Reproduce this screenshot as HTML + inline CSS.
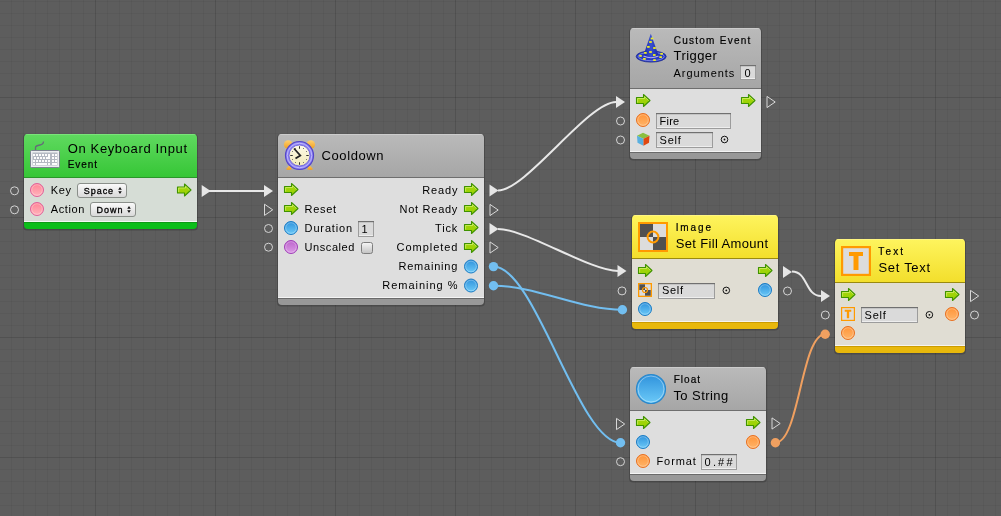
<!DOCTYPE html><html><head><meta charset="utf-8"><style>html,body{margin:0;padding:0;background:#5d5d5d;overflow:hidden;width:1001px;height:516px}svg{display:block;will-change:transform}text{font-family:"Liberation Sans",sans-serif}</style></head><body><svg width="1001" height="516" viewBox="0 0 1001 516" font-family="Liberation Sans, sans-serif"><defs><linearGradient id="hg_green" x1="0" y1="0" x2="0" y2="1"><stop offset="0" stop-color="#60da60"/><stop offset="1" stop-color="#36c636"/></linearGradient><linearGradient id="hg_gray" x1="0" y1="0" x2="0" y2="1"><stop offset="0" stop-color="#bababa"/><stop offset="1" stop-color="#a6a6a6"/></linearGradient><linearGradient id="hg_yellow" x1="0" y1="0" x2="0" y2="1"><stop offset="0" stop-color="#fef45e"/><stop offset="1" stop-color="#f3df2c"/></linearGradient><linearGradient id="pg_blue" x1="0" y1="0" x2="0" y2="1"><stop offset="0" stop-color="#2f92dc"/><stop offset="1" stop-color="#6ccaf8"/></linearGradient><linearGradient id="pg_orange" x1="0" y1="0" x2="0" y2="1"><stop offset="0" stop-color="#ff9438"/><stop offset="1" stop-color="#ffb56a"/></linearGradient><linearGradient id="pg_pink" x1="0" y1="0" x2="0" y2="1"><stop offset="0" stop-color="#ff8496"/><stop offset="1" stop-color="#ffb4bc"/></linearGradient><linearGradient id="pg_purple" x1="0" y1="0" x2="0" y2="1"><stop offset="0" stop-color="#bc64cc"/><stop offset="1" stop-color="#dc9ce6"/></linearGradient><linearGradient id="ag" x1="0" y1="0" x2="0" y2="1"><stop offset="0" stop-color="#a6d810"/><stop offset="1" stop-color="#98d000"/></linearGradient><linearGradient id="ddg" x1="0" y1="0" x2="0" y2="1"><stop offset="0" stop-color="#fbfbfb"/><stop offset="1" stop-color="#d8d8d8"/></linearGradient></defs><rect width="1001" height="516" fill="#5d5d5d"/><rect x="11" y="0" width="1" height="516" fill="#000" fill-opacity="0.045"/><rect x="23" y="0" width="1" height="516" fill="#000" fill-opacity="0.045"/><rect x="35" y="0" width="1" height="516" fill="#000" fill-opacity="0.045"/><rect x="47" y="0" width="1" height="516" fill="#000" fill-opacity="0.045"/><rect x="59" y="0" width="1" height="516" fill="#000" fill-opacity="0.045"/><rect x="71" y="0" width="1" height="516" fill="#000" fill-opacity="0.045"/><rect x="83" y="0" width="1" height="516" fill="#000" fill-opacity="0.045"/><rect x="95" y="0" width="1" height="516" fill="#000" fill-opacity="0.12"/><rect x="107" y="0" width="1" height="516" fill="#000" fill-opacity="0.045"/><rect x="119" y="0" width="1" height="516" fill="#000" fill-opacity="0.045"/><rect x="131" y="0" width="1" height="516" fill="#000" fill-opacity="0.045"/><rect x="143" y="0" width="1" height="516" fill="#000" fill-opacity="0.045"/><rect x="155" y="0" width="1" height="516" fill="#000" fill-opacity="0.045"/><rect x="167" y="0" width="1" height="516" fill="#000" fill-opacity="0.045"/><rect x="179" y="0" width="1" height="516" fill="#000" fill-opacity="0.045"/><rect x="191" y="0" width="1" height="516" fill="#000" fill-opacity="0.045"/><rect x="203" y="0" width="1" height="516" fill="#000" fill-opacity="0.045"/><rect x="215" y="0" width="1" height="516" fill="#000" fill-opacity="0.12"/><rect x="227" y="0" width="1" height="516" fill="#000" fill-opacity="0.045"/><rect x="239" y="0" width="1" height="516" fill="#000" fill-opacity="0.045"/><rect x="251" y="0" width="1" height="516" fill="#000" fill-opacity="0.045"/><rect x="263" y="0" width="1" height="516" fill="#000" fill-opacity="0.045"/><rect x="275" y="0" width="1" height="516" fill="#000" fill-opacity="0.045"/><rect x="287" y="0" width="1" height="516" fill="#000" fill-opacity="0.045"/><rect x="299" y="0" width="1" height="516" fill="#000" fill-opacity="0.045"/><rect x="311" y="0" width="1" height="516" fill="#000" fill-opacity="0.045"/><rect x="323" y="0" width="1" height="516" fill="#000" fill-opacity="0.045"/><rect x="335" y="0" width="1" height="516" fill="#000" fill-opacity="0.12"/><rect x="347" y="0" width="1" height="516" fill="#000" fill-opacity="0.045"/><rect x="359" y="0" width="1" height="516" fill="#000" fill-opacity="0.045"/><rect x="371" y="0" width="1" height="516" fill="#000" fill-opacity="0.045"/><rect x="383" y="0" width="1" height="516" fill="#000" fill-opacity="0.045"/><rect x="395" y="0" width="1" height="516" fill="#000" fill-opacity="0.045"/><rect x="407" y="0" width="1" height="516" fill="#000" fill-opacity="0.045"/><rect x="419" y="0" width="1" height="516" fill="#000" fill-opacity="0.045"/><rect x="431" y="0" width="1" height="516" fill="#000" fill-opacity="0.045"/><rect x="443" y="0" width="1" height="516" fill="#000" fill-opacity="0.045"/><rect x="455" y="0" width="1" height="516" fill="#000" fill-opacity="0.12"/><rect x="467" y="0" width="1" height="516" fill="#000" fill-opacity="0.045"/><rect x="479" y="0" width="1" height="516" fill="#000" fill-opacity="0.045"/><rect x="491" y="0" width="1" height="516" fill="#000" fill-opacity="0.045"/><rect x="503" y="0" width="1" height="516" fill="#000" fill-opacity="0.045"/><rect x="515" y="0" width="1" height="516" fill="#000" fill-opacity="0.045"/><rect x="527" y="0" width="1" height="516" fill="#000" fill-opacity="0.045"/><rect x="539" y="0" width="1" height="516" fill="#000" fill-opacity="0.045"/><rect x="551" y="0" width="1" height="516" fill="#000" fill-opacity="0.045"/><rect x="563" y="0" width="1" height="516" fill="#000" fill-opacity="0.045"/><rect x="575" y="0" width="1" height="516" fill="#000" fill-opacity="0.12"/><rect x="587" y="0" width="1" height="516" fill="#000" fill-opacity="0.045"/><rect x="599" y="0" width="1" height="516" fill="#000" fill-opacity="0.045"/><rect x="611" y="0" width="1" height="516" fill="#000" fill-opacity="0.045"/><rect x="623" y="0" width="1" height="516" fill="#000" fill-opacity="0.045"/><rect x="635" y="0" width="1" height="516" fill="#000" fill-opacity="0.045"/><rect x="647" y="0" width="1" height="516" fill="#000" fill-opacity="0.045"/><rect x="659" y="0" width="1" height="516" fill="#000" fill-opacity="0.045"/><rect x="671" y="0" width="1" height="516" fill="#000" fill-opacity="0.045"/><rect x="683" y="0" width="1" height="516" fill="#000" fill-opacity="0.045"/><rect x="695" y="0" width="1" height="516" fill="#000" fill-opacity="0.12"/><rect x="707" y="0" width="1" height="516" fill="#000" fill-opacity="0.045"/><rect x="719" y="0" width="1" height="516" fill="#000" fill-opacity="0.045"/><rect x="731" y="0" width="1" height="516" fill="#000" fill-opacity="0.045"/><rect x="743" y="0" width="1" height="516" fill="#000" fill-opacity="0.045"/><rect x="755" y="0" width="1" height="516" fill="#000" fill-opacity="0.045"/><rect x="767" y="0" width="1" height="516" fill="#000" fill-opacity="0.045"/><rect x="779" y="0" width="1" height="516" fill="#000" fill-opacity="0.045"/><rect x="791" y="0" width="1" height="516" fill="#000" fill-opacity="0.045"/><rect x="803" y="0" width="1" height="516" fill="#000" fill-opacity="0.045"/><rect x="815" y="0" width="1" height="516" fill="#000" fill-opacity="0.12"/><rect x="827" y="0" width="1" height="516" fill="#000" fill-opacity="0.045"/><rect x="839" y="0" width="1" height="516" fill="#000" fill-opacity="0.045"/><rect x="851" y="0" width="1" height="516" fill="#000" fill-opacity="0.045"/><rect x="863" y="0" width="1" height="516" fill="#000" fill-opacity="0.045"/><rect x="875" y="0" width="1" height="516" fill="#000" fill-opacity="0.045"/><rect x="887" y="0" width="1" height="516" fill="#000" fill-opacity="0.045"/><rect x="899" y="0" width="1" height="516" fill="#000" fill-opacity="0.045"/><rect x="911" y="0" width="1" height="516" fill="#000" fill-opacity="0.045"/><rect x="923" y="0" width="1" height="516" fill="#000" fill-opacity="0.045"/><rect x="935" y="0" width="1" height="516" fill="#000" fill-opacity="0.12"/><rect x="947" y="0" width="1" height="516" fill="#000" fill-opacity="0.045"/><rect x="959" y="0" width="1" height="516" fill="#000" fill-opacity="0.045"/><rect x="971" y="0" width="1" height="516" fill="#000" fill-opacity="0.045"/><rect x="983" y="0" width="1" height="516" fill="#000" fill-opacity="0.045"/><rect x="995" y="0" width="1" height="516" fill="#000" fill-opacity="0.045"/><rect x="0" y="1" width="1001" height="1" fill="#000" fill-opacity="0.045"/><rect x="0" y="13" width="1001" height="1" fill="#000" fill-opacity="0.045"/><rect x="0" y="25" width="1001" height="1" fill="#000" fill-opacity="0.045"/><rect x="0" y="37" width="1001" height="1" fill="#000" fill-opacity="0.045"/><rect x="0" y="49" width="1001" height="1" fill="#000" fill-opacity="0.045"/><rect x="0" y="61" width="1001" height="1" fill="#000" fill-opacity="0.045"/><rect x="0" y="73" width="1001" height="1" fill="#000" fill-opacity="0.045"/><rect x="0" y="85" width="1001" height="1" fill="#000" fill-opacity="0.045"/><rect x="0" y="97" width="1001" height="1" fill="#000" fill-opacity="0.12"/><rect x="0" y="109" width="1001" height="1" fill="#000" fill-opacity="0.045"/><rect x="0" y="121" width="1001" height="1" fill="#000" fill-opacity="0.045"/><rect x="0" y="133" width="1001" height="1" fill="#000" fill-opacity="0.045"/><rect x="0" y="145" width="1001" height="1" fill="#000" fill-opacity="0.045"/><rect x="0" y="157" width="1001" height="1" fill="#000" fill-opacity="0.045"/><rect x="0" y="169" width="1001" height="1" fill="#000" fill-opacity="0.045"/><rect x="0" y="181" width="1001" height="1" fill="#000" fill-opacity="0.045"/><rect x="0" y="193" width="1001" height="1" fill="#000" fill-opacity="0.045"/><rect x="0" y="205" width="1001" height="1" fill="#000" fill-opacity="0.045"/><rect x="0" y="217" width="1001" height="1" fill="#000" fill-opacity="0.12"/><rect x="0" y="229" width="1001" height="1" fill="#000" fill-opacity="0.045"/><rect x="0" y="241" width="1001" height="1" fill="#000" fill-opacity="0.045"/><rect x="0" y="253" width="1001" height="1" fill="#000" fill-opacity="0.045"/><rect x="0" y="265" width="1001" height="1" fill="#000" fill-opacity="0.045"/><rect x="0" y="277" width="1001" height="1" fill="#000" fill-opacity="0.045"/><rect x="0" y="289" width="1001" height="1" fill="#000" fill-opacity="0.045"/><rect x="0" y="301" width="1001" height="1" fill="#000" fill-opacity="0.045"/><rect x="0" y="313" width="1001" height="1" fill="#000" fill-opacity="0.045"/><rect x="0" y="325" width="1001" height="1" fill="#000" fill-opacity="0.045"/><rect x="0" y="337" width="1001" height="1" fill="#000" fill-opacity="0.12"/><rect x="0" y="349" width="1001" height="1" fill="#000" fill-opacity="0.045"/><rect x="0" y="361" width="1001" height="1" fill="#000" fill-opacity="0.045"/><rect x="0" y="373" width="1001" height="1" fill="#000" fill-opacity="0.045"/><rect x="0" y="385" width="1001" height="1" fill="#000" fill-opacity="0.045"/><rect x="0" y="397" width="1001" height="1" fill="#000" fill-opacity="0.045"/><rect x="0" y="409" width="1001" height="1" fill="#000" fill-opacity="0.045"/><rect x="0" y="421" width="1001" height="1" fill="#000" fill-opacity="0.045"/><rect x="0" y="433" width="1001" height="1" fill="#000" fill-opacity="0.045"/><rect x="0" y="445" width="1001" height="1" fill="#000" fill-opacity="0.045"/><rect x="0" y="457" width="1001" height="1" fill="#000" fill-opacity="0.12"/><rect x="0" y="469" width="1001" height="1" fill="#000" fill-opacity="0.045"/><rect x="0" y="481" width="1001" height="1" fill="#000" fill-opacity="0.045"/><rect x="0" y="493" width="1001" height="1" fill="#000" fill-opacity="0.045"/><rect x="0" y="505" width="1001" height="1" fill="#000" fill-opacity="0.045"/><path d="M206 191C206 191 265 191 265 191" fill="none" stroke="#e8e8e8" stroke-width="2"/><path d="M498 190.5C526 190.5 588 102 616 102" fill="none" stroke="#e8e8e8" stroke-width="2"/><path d="M498 229C526 229 590 271 618 271" fill="none" stroke="#e8e8e8" stroke-width="2"/><path d="M493.5 266.6C535.5 266.6 578.5 442.8 620.5 442.8" fill="none" stroke="#72bef0" stroke-width="2"/><path d="M493.5 285.7C535.5 285.7 580.4 309.8 622.4 309.8" fill="none" stroke="#72bef0" stroke-width="2"/><path d="M792 271.5C808 271.5 805 296 821 296" fill="none" stroke="#e8e8e8" stroke-width="2"/><path d="M775.4 442.7C799.4 442.7 801.2 334.2 825.2 334.2" fill="none" stroke="#f0a060" stroke-width="2"/><rect x="23" y="134" width="175" height="96.5" rx="4" fill="#000" opacity="0.2"/><clipPath id="c24134"><rect x="24" y="134" width="173" height="95" rx="4"/></clipPath><g clip-path="url(#c24134)"><rect x="24" y="134" width="173" height="43" fill="url(#hg_green)"/><rect x="24" y="134" width="173" height="1" fill="#7ae47a"/><rect x="24" y="177" width="173" height="1" fill="#2a962a"/><rect x="24" y="178" width="173" height="43" fill="#d6ddd6"/><rect x="24" y="221" width="173" height="1" fill="#f4f8f4"/><rect x="24" y="222" width="173" height="7" fill="#0cbe1a"/><rect x="24" y="222" width="173" height="1" fill="#0e9a16"/></g><path d="M35.5 150.5V147.5C35.5 145.5 38 145.5 40 145C42.5 144.5 43.5 144 43.5 141.5" fill="none" stroke="#646c78" stroke-width="1.3"/><rect x="30.5" y="150.5" width="29" height="17" rx="1" fill="#eceef0" stroke="#7c8490"/><rect x="32.5" y="152.5" width="25" height="13" fill="#b4b9c2"/><rect x="33" y="154" width="2" height="2" fill="#fcfcfc"/><rect x="36" y="154" width="2" height="2" fill="#fcfcfc"/><rect x="39" y="154" width="2" height="2" fill="#fcfcfc"/><rect x="42" y="154" width="2" height="2" fill="#fcfcfc"/><rect x="45" y="154" width="2" height="2" fill="#fcfcfc"/><rect x="52" y="154" width="2" height="2" fill="#fcfcfc"/><rect x="55" y="154" width="2" height="2" fill="#fcfcfc"/><rect x="34" y="157" width="2" height="2" fill="#fcfcfc"/><rect x="37" y="157" width="2" height="2" fill="#fcfcfc"/><rect x="40" y="157" width="2" height="2" fill="#fcfcfc"/><rect x="43" y="157" width="2" height="2" fill="#fcfcfc"/><rect x="52" y="157" width="2" height="2" fill="#fcfcfc"/><rect x="55" y="157" width="2" height="2" fill="#fcfcfc"/><rect x="33" y="160" width="2" height="2" fill="#fcfcfc"/><rect x="36" y="160" width="2" height="2" fill="#fcfcfc"/><rect x="39" y="160" width="2" height="2" fill="#fcfcfc"/><rect x="42" y="160" width="2" height="2" fill="#fcfcfc"/><rect x="45" y="160" width="2" height="2" fill="#fcfcfc"/><rect x="48" y="160" width="2" height="2" fill="#fcfcfc"/><rect x="52" y="160" width="2" height="2" fill="#fcfcfc"/><rect x="55" y="160" width="2" height="2" fill="#fcfcfc"/><path d="M48 154H50V159H46V157H48Z" fill="#fcfcfc"/><rect x="33" y="163" width="2" height="2" fill="#fcfcfc"/><rect x="36" y="163" width="11" height="2" fill="#fcfcfc"/><rect x="48" y="163" width="2" height="2" fill="#fcfcfc"/><rect x="52" y="163" width="5" height="2" fill="#fcfcfc"/><text x="67.70" y="152.80" font-size="13" font-weight="normal" fill="#000" textLength="119.33" lengthAdjust="spacing">On Keyboard Input</text><text x="67.70" y="168.00" font-size="10" font-weight="normal" fill="#000" stroke="#000" stroke-width="0.2" textLength="29.27" lengthAdjust="spacing">Event</text><circle cx="37" cy="190" r="6.5" fill="url(#pg_pink)" stroke="#e0609a" stroke-width="1"/><circle cx="37" cy="190" r="5.3" fill="none" stroke="#fff" stroke-opacity="0.35" stroke-width="0.8"/><circle cx="37" cy="209" r="6.5" fill="url(#pg_pink)" stroke="#e0609a" stroke-width="1"/><circle cx="37" cy="209" r="5.3" fill="none" stroke="#fff" stroke-opacity="0.35" stroke-width="0.8"/><text x="50.80" y="194.00" font-size="11" font-weight="normal" fill="#000" textLength="20.15" lengthAdjust="spacing">Key</text><text x="50.80" y="213.00" font-size="11" font-weight="normal" fill="#000" textLength="33.47" lengthAdjust="spacing">Action</text><rect x="77.5" y="183.5" width="49" height="14" rx="2.5" fill="url(#ddg)" stroke="#8a8f8a" stroke-width="1"/><path d="M118.2 189.7L120 186.9L121.8 189.7Z M118.2 191.3L120 194.1L121.8 191.3Z" fill="#111"/><text x="83.70" y="194.00" font-size="9" font-weight="normal" fill="#000" stroke="#000" stroke-width="0.3" textLength="29.42" lengthAdjust="spacing">Space</text><rect x="90.5" y="202.5" width="45" height="14" rx="2.5" fill="url(#ddg)" stroke="#8a8f8a" stroke-width="1"/><path d="M127.2 208.7L129 205.9L130.8 208.7Z M127.2 210.3L129 213.1L130.8 210.3Z" fill="#111"/><text x="96.50" y="212.60" font-size="9" font-weight="normal" fill="#000" stroke="#000" stroke-width="0.3" textLength="25.91" lengthAdjust="spacing">Down</text><g transform="translate(177.00,183.50)"><path d="M0.5 3.5H7.5V0.5L14 6.5L7.5 12.5V9.5H0.5Z" fill="url(#ag)" stroke="#3f9200" stroke-width="1.1" stroke-linejoin="round"/><path d="M1.6 8.6V4.5H8.5V2.8M8.6 2.6L12.6 6.5" fill="none" stroke="#e4f890" stroke-opacity="0.7" stroke-width="0.8"/></g><circle cx="14.5" cy="190.8" r="4" fill="none" stroke="#d4d4d4" stroke-width="1"/><circle cx="14.5" cy="209.8" r="4" fill="none" stroke="#d4d4d4" stroke-width="1"/><path d="M201.7 185L210.7 191L201.7 197Z" fill="#e6e6e6"/><rect x="277" y="134" width="208" height="172.5" rx="4" fill="#000" opacity="0.2"/><clipPath id="c278134"><rect x="278" y="134" width="206" height="171" rx="4"/></clipPath><g clip-path="url(#c278134)"><rect x="278" y="134" width="206" height="43" fill="url(#hg_gray)"/><rect x="278" y="134" width="206" height="1" fill="#cccccc"/><rect x="278" y="177" width="206" height="1" fill="#6e6e6e"/><rect x="278" y="178" width="206" height="119" fill="#dedede"/><rect x="278" y="297" width="206" height="1" fill="#f4f4f4"/><rect x="278" y="298" width="206" height="7" fill="#989898"/><rect x="278" y="298" width="206" height="1" fill="#6a6a6a"/></g><linearGradient id="bellg" x1="0" y1="0" x2="0" y2="1"><stop offset="0" stop-color="#ffd070"/><stop offset="1" stop-color="#f0a020"/></linearGradient><linearGradient id="faceg" x1="0" y1="0" x2="0" y2="1"><stop offset="0" stop-color="#fdfbe8"/><stop offset="1" stop-color="#f2eab8"/></linearGradient><ellipse cx="288.2" cy="144.5" rx="4.3" ry="4.3" fill="url(#bellg)"/><ellipse cx="310.8" cy="144.5" rx="4.3" ry="4.3" fill="url(#bellg)"/><path d="M290.5 164.0L286.0 169.0Q287.5 170.5 291.5 169.5Z M308.5 164.0L313.0 169.0Q311.5 170.5 307.5 169.5Z" fill="url(#bellg)"/><circle cx="299.5" cy="155.5" r="14" fill="#8a80f0" stroke="#5446c8" stroke-width="1.2"/><circle cx="299.5" cy="155.5" r="12.3" fill="none" stroke="#c0b8ff" stroke-width="1"/><circle cx="299.5" cy="155.5" r="10.5" fill="url(#faceg)" stroke="#6a5ed8" stroke-width="0.8"/><path d="M294.0 148.5L300.3 155.5L295.5 158.5" fill="none" stroke="#222" stroke-width="1.8" stroke-linejoin="miter"/><rect x="299.0" y="146.25" width="1" height="2.5" fill="#333"/><rect x="299.0" y="162.25" width="1" height="2.5" fill="#333"/><rect x="290.25" y="155.0" width="2.5" height="1" fill="#333"/><rect x="306.25" y="155.0" width="2.5" height="1" fill="#333"/><circle cx="303.50" cy="148.57" r="0.5" fill="#555"/><circle cx="306.43" cy="151.50" r="0.5" fill="#555"/><circle cx="306.43" cy="159.50" r="0.5" fill="#555"/><circle cx="303.50" cy="162.43" r="0.5" fill="#555"/><circle cx="295.50" cy="162.43" r="0.5" fill="#555"/><circle cx="292.57" cy="159.50" r="0.5" fill="#555"/><circle cx="292.57" cy="151.50" r="0.5" fill="#555"/><circle cx="295.50" cy="148.57" r="0.5" fill="#555"/><text x="321.50" y="159.80" font-size="13" font-weight="normal" fill="#000" textLength="62.01" lengthAdjust="spacing">Cooldown</text><g transform="translate(284.00,183.00)"><path d="M0.5 3.5H7.5V0.5L14 6.5L7.5 12.5V9.5H0.5Z" fill="url(#ag)" stroke="#3f9200" stroke-width="1.1" stroke-linejoin="round"/><path d="M1.6 8.6V4.5H8.5V2.8M8.6 2.6L12.6 6.5" fill="none" stroke="#e4f890" stroke-opacity="0.7" stroke-width="0.8"/></g><g transform="translate(284.00,202.00)"><path d="M0.5 3.5H7.5V0.5L14 6.5L7.5 12.5V9.5H0.5Z" fill="url(#ag)" stroke="#3f9200" stroke-width="1.1" stroke-linejoin="round"/><path d="M1.6 8.6V4.5H8.5V2.8M8.6 2.6L12.6 6.5" fill="none" stroke="#e4f890" stroke-opacity="0.7" stroke-width="0.8"/></g><circle cx="291" cy="228" r="6.5" fill="url(#pg_blue)" stroke="#1c7cc4" stroke-width="1"/><circle cx="291" cy="228" r="5.3" fill="none" stroke="#fff" stroke-opacity="0.35" stroke-width="0.8"/><circle cx="291" cy="247" r="6.5" fill="url(#pg_purple)" stroke="#a040b8" stroke-width="1"/><circle cx="291" cy="247" r="5.3" fill="none" stroke="#fff" stroke-opacity="0.35" stroke-width="0.8"/><text x="304.60" y="212.70" font-size="11" font-weight="normal" fill="#000" textLength="31.43" lengthAdjust="spacing">Reset</text><text x="304.60" y="231.80" font-size="11" font-weight="normal" fill="#000" textLength="47.57" lengthAdjust="spacing">Duration</text><text x="304.60" y="251.00" font-size="11" font-weight="normal" fill="#000" textLength="49.76" lengthAdjust="spacing">Unscaled</text><rect x="358.5" y="221.5" width="15" height="15" fill="#dadada" stroke="#9c9c9c" stroke-width="1"/><rect x="358" y="221" width="16" height="1.2" fill="#707070"/><rect x="359" y="235" width="14" height="1" fill="#eeeeee"/><text x="361.60" y="232.80" font-size="11" font-weight="normal" fill="#000" textLength="5.42" lengthAdjust="spacing">1</text><linearGradient id="cbg" x1="0" y1="0" x2="0" y2="1"><stop offset="0" stop-color="#f6f6f6"/><stop offset="1" stop-color="#c2c2c2"/></linearGradient><rect x="361.5" y="242.5" width="11" height="11" rx="2" fill="url(#cbg)" stroke="#7e7e7e"/><text x="422.20" y="194.00" font-size="11" font-weight="normal" fill="#000" textLength="35.20" lengthAdjust="spacing">Ready</text><text x="399.50" y="213.00" font-size="11" font-weight="normal" fill="#000" textLength="57.87" lengthAdjust="spacing">Not Ready</text><text x="435.00" y="232.00" font-size="11" font-weight="normal" fill="#000" textLength="22.25" lengthAdjust="spacing">Tick</text><text x="396.60" y="251.00" font-size="11" font-weight="normal" fill="#000" textLength="60.79" lengthAdjust="spacing">Completed</text><text x="398.40" y="270.00" font-size="11" font-weight="normal" fill="#000" textLength="58.98" lengthAdjust="spacing">Remaining</text><text x="382.30" y="289.00" font-size="11" font-weight="normal" fill="#000" textLength="75.12" lengthAdjust="spacing">Remaining %</text><g transform="translate(464.00,183.00)"><path d="M0.5 3.5H7.5V0.5L14 6.5L7.5 12.5V9.5H0.5Z" fill="url(#ag)" stroke="#3f9200" stroke-width="1.1" stroke-linejoin="round"/><path d="M1.6 8.6V4.5H8.5V2.8M8.6 2.6L12.6 6.5" fill="none" stroke="#e4f890" stroke-opacity="0.7" stroke-width="0.8"/></g><g transform="translate(464.00,202.00)"><path d="M0.5 3.5H7.5V0.5L14 6.5L7.5 12.5V9.5H0.5Z" fill="url(#ag)" stroke="#3f9200" stroke-width="1.1" stroke-linejoin="round"/><path d="M1.6 8.6V4.5H8.5V2.8M8.6 2.6L12.6 6.5" fill="none" stroke="#e4f890" stroke-opacity="0.7" stroke-width="0.8"/></g><g transform="translate(464.00,221.00)"><path d="M0.5 3.5H7.5V0.5L14 6.5L7.5 12.5V9.5H0.5Z" fill="url(#ag)" stroke="#3f9200" stroke-width="1.1" stroke-linejoin="round"/><path d="M1.6 8.6V4.5H8.5V2.8M8.6 2.6L12.6 6.5" fill="none" stroke="#e4f890" stroke-opacity="0.7" stroke-width="0.8"/></g><g transform="translate(464.00,240.00)"><path d="M0.5 3.5H7.5V0.5L14 6.5L7.5 12.5V9.5H0.5Z" fill="url(#ag)" stroke="#3f9200" stroke-width="1.1" stroke-linejoin="round"/><path d="M1.6 8.6V4.5H8.5V2.8M8.6 2.6L12.6 6.5" fill="none" stroke="#e4f890" stroke-opacity="0.7" stroke-width="0.8"/></g><circle cx="471" cy="266.5" r="6.5" fill="url(#pg_blue)" stroke="#1c7cc4" stroke-width="1"/><circle cx="471" cy="266.5" r="5.3" fill="none" stroke="#fff" stroke-opacity="0.35" stroke-width="0.8"/><circle cx="471" cy="285.5" r="6.5" fill="url(#pg_blue)" stroke="#1c7cc4" stroke-width="1"/><circle cx="471" cy="285.5" r="5.3" fill="none" stroke="#fff" stroke-opacity="0.35" stroke-width="0.8"/><path d="M264.0 185L273.0 191L264.0 197Z" fill="#e6e6e6"/><path d="M264.5 204.20000000000002L272.7 209.8L264.5 215.4Z" fill="none" stroke="#d8d8d8" stroke-width="1"/><circle cx="268.5" cy="228.5" r="4" fill="none" stroke="#d4d4d4" stroke-width="1"/><circle cx="268.5" cy="247.2" r="4" fill="none" stroke="#d4d4d4" stroke-width="1"/><path d="M489.5 184.5L498.5 190.5L489.5 196.5Z" fill="#e6e6e6"/><path d="M490.0 204.4L498.2 210L490.0 215.6Z" fill="none" stroke="#d8d8d8" stroke-width="1"/><path d="M489.5 223L498.5 229L489.5 235Z" fill="#e6e6e6"/><path d="M490.0 241.9L498.2 247.5L490.0 253.1Z" fill="none" stroke="#d8d8d8" stroke-width="1"/><circle cx="493.5" cy="266.6" r="4.7" fill="#72bef0"/><circle cx="493.5" cy="285.7" r="4.7" fill="#72bef0"/><rect x="629" y="28" width="133" height="132.5" rx="4" fill="#000" opacity="0.2"/><clipPath id="c63028"><rect x="630" y="28" width="131" height="131" rx="4"/></clipPath><g clip-path="url(#c63028)"><rect x="630" y="28" width="131" height="60" fill="url(#hg_gray)"/><rect x="630" y="28" width="131" height="1" fill="#cccccc"/><rect x="630" y="88" width="131" height="1" fill="#6e6e6e"/><rect x="630" y="89" width="131" height="62" fill="#dedede"/><rect x="630" y="151" width="131" height="1" fill="#f4f4f4"/><rect x="630" y="152" width="131" height="7" fill="#989898"/><rect x="630" y="152" width="131" height="1" fill="#6a6a6a"/></g><linearGradient id="hatg" x1="0" y1="0" x2="1" y2="0"><stop offset="0" stop-color="#1a28a0"/><stop offset="0.5" stop-color="#3a50d0"/><stop offset="1" stop-color="#1a28a0"/></linearGradient><ellipse cx="651.2" cy="56.5" rx="15" ry="5.6" fill="#2a3cc0" stroke="#1a2890" stroke-width="0.8"/><ellipse cx="651.2" cy="56.5" rx="13" ry="4.2" fill="none" stroke="#8a90e8" stroke-width="0.8"/><path d="M650.8 33.8 L658.8 56 Q651 59.5 643.2 56 Z" fill="url(#hatg)"/><path d="M643.5 56 Q651 59.5 658.5 56" fill="none" stroke="#b8b0f0" stroke-width="1.2"/><rect x="650.7" y="37.6" width="2.6" height="1.8" fill="#f0f020"/><rect x="649.2" y="41.1" width="2.6" height="1.8" fill="#f0f020"/><rect x="647.1" y="46.0" width="2.6" height="1.8" fill="#f0f020"/><rect x="653.2" y="47.1" width="2.6" height="1.8" fill="#f0f020"/><rect x="649.2" y="51.1" width="2.6" height="1.8" fill="#f0f020"/><rect x="644.1" y="52.0" width="2.6" height="1.8" fill="#f0f020"/><rect x="653.0" y="54.1" width="2.6" height="1.8" fill="#f0f020"/><rect x="639.2" y="55.0" width="2.6" height="1.8" fill="#f0f020"/><rect x="660.3000000000001" y="52.9" width="2.6" height="1.8" fill="#f0f020"/><rect x="659.3000000000001" y="56.2" width="2.6" height="1.8" fill="#f0f020"/><rect x="643.1" y="58.0" width="2.6" height="1.8" fill="#f0f020"/><rect x="653.2" y="59.2" width="2.6" height="1.8" fill="#f0f020"/><text x="673.70" y="43.90" font-size="10" font-weight="normal" fill="#000" stroke="#000" stroke-width="0.2" textLength="76.60" lengthAdjust="spacing">Custom Event</text><text x="673.50" y="59.60" font-size="13" font-weight="normal" fill="#000" textLength="43.39" lengthAdjust="spacing">Trigger</text><text x="673.50" y="76.70" font-size="11" font-weight="normal" fill="#000" textLength="60.79" lengthAdjust="spacing">Arguments</text><rect x="740.5" y="65.5" width="15" height="14" fill="#dadada" stroke="#9c9c9c" stroke-width="1"/><rect x="740" y="65" width="16" height="1.2" fill="#707070"/><rect x="741" y="78" width="14" height="1" fill="#eeeeee"/><text x="744.50" y="76.50" font-size="11" font-weight="normal" fill="#000" textLength="7.02" lengthAdjust="spacing">0</text><g transform="translate(636.00,94.00)"><path d="M0.5 3.5H7.5V0.5L14 6.5L7.5 12.5V9.5H0.5Z" fill="url(#ag)" stroke="#3f9200" stroke-width="1.1" stroke-linejoin="round"/><path d="M1.6 8.6V4.5H8.5V2.8M8.6 2.6L12.6 6.5" fill="none" stroke="#e4f890" stroke-opacity="0.7" stroke-width="0.8"/></g><g transform="translate(741.00,94.00)"><path d="M0.5 3.5H7.5V0.5L14 6.5L7.5 12.5V9.5H0.5Z" fill="url(#ag)" stroke="#3f9200" stroke-width="1.1" stroke-linejoin="round"/><path d="M1.6 8.6V4.5H8.5V2.8M8.6 2.6L12.6 6.5" fill="none" stroke="#e4f890" stroke-opacity="0.7" stroke-width="0.8"/></g><circle cx="643" cy="120" r="6.5" fill="url(#pg_orange)" stroke="#e87020" stroke-width="1"/><circle cx="643" cy="120" r="5.3" fill="none" stroke="#fff" stroke-opacity="0.35" stroke-width="0.8"/><rect x="656.5" y="113.5" width="74" height="15" fill="#dadada" stroke="#9c9c9c" stroke-width="1"/><rect x="656" y="113" width="75" height="1.2" fill="#707070"/><rect x="657" y="127" width="73" height="1" fill="#eeeeee"/><text x="659.60" y="124.50" font-size="11" font-weight="normal" fill="#000" textLength="19.54" lengthAdjust="spacing">Fire</text><path d="M637 135.7L643 132.7L649.5 135.7L643.5 138.7Z" fill="#8cc040"/><path d="M637 135.7L643.5 138.7L643.5 145.7L637.5 142.7Z" fill="#5ab0e0"/><path d="M643.5 138.7L649.5 135.7L649 142.7L643.5 145.7Z" fill="#e04810"/><rect x="656.5" y="132.5" width="56" height="15" fill="#dadada" stroke="#9c9c9c" stroke-width="1"/><rect x="656" y="132" width="57" height="1.2" fill="#707070"/><rect x="657" y="146" width="55" height="1" fill="#eeeeee"/><text x="659.60" y="143.80" font-size="11" font-weight="normal" fill="#000" textLength="21.25" lengthAdjust="spacing">Self</text><circle cx="724.5" cy="139.5" r="3.3" fill="none" stroke="#111" stroke-width="1"/><circle cx="724.5" cy="139.5" r="0.9" fill="#111"/><path d="M616.0 96L625.0 102L616.0 108Z" fill="#e6e6e6"/><circle cx="620.5" cy="121" r="4" fill="none" stroke="#d4d4d4" stroke-width="1"/><circle cx="620.5" cy="140" r="4" fill="none" stroke="#d4d4d4" stroke-width="1"/><path d="M767.0 96.4L775.2 102L767.0 107.6Z" fill="none" stroke="#d8d8d8" stroke-width="1"/><rect x="631" y="215" width="148" height="115.5" rx="4" fill="#000" opacity="0.2"/><clipPath id="c632215"><rect x="632" y="215" width="146" height="114" rx="4"/></clipPath><g clip-path="url(#c632215)"><rect x="632" y="215" width="146" height="43" fill="url(#hg_yellow)"/><rect x="632" y="215" width="146" height="1" fill="#fff680"/><rect x="632" y="258" width="146" height="1" fill="#9a8a10"/><rect x="632" y="259" width="146" height="62" fill="#e0ddd3"/><rect x="632" y="321" width="146" height="1" fill="#f6f4ee"/><rect x="632" y="322" width="146" height="7" fill="#e8b80c"/><rect x="632" y="322" width="146" height="1" fill="#cc9c00"/></g><rect x="638" y="222" width="30" height="30" fill="#ff9a00"/><rect x="640" y="224" width="26" height="26" fill="#dcdcdc"/><rect x="640" y="224" width="13.0" height="13.0" fill="#505050"/><rect x="653.0" y="237.0" width="13.0" height="13.0" fill="#505050"/><circle cx="653.0" cy="237.0" r="5.40" fill="none" stroke="#ff9a00" stroke-width="2"/><text x="675.70" y="231.00" font-size="10" font-weight="normal" fill="#000" stroke="#000" stroke-width="0.2" textLength="35.29" lengthAdjust="spacing">Image</text><text x="675.70" y="247.90" font-size="13" font-weight="normal" fill="#000" textLength="92.32" lengthAdjust="spacing">Set Fill Amount</text><g transform="translate(638.00,264.00)"><path d="M0.5 3.5H7.5V0.5L14 6.5L7.5 12.5V9.5H0.5Z" fill="url(#ag)" stroke="#3f9200" stroke-width="1.1" stroke-linejoin="round"/><path d="M1.6 8.6V4.5H8.5V2.8M8.6 2.6L12.6 6.5" fill="none" stroke="#e4f890" stroke-opacity="0.7" stroke-width="0.8"/></g><g transform="translate(758.00,264.00)"><path d="M0.5 3.5H7.5V0.5L14 6.5L7.5 12.5V9.5H0.5Z" fill="url(#ag)" stroke="#3f9200" stroke-width="1.1" stroke-linejoin="round"/><path d="M1.6 8.6V4.5H8.5V2.8M8.6 2.6L12.6 6.5" fill="none" stroke="#e4f890" stroke-opacity="0.7" stroke-width="0.8"/></g><rect x="638" y="283" width="14" height="14" fill="#ff9a00"/><rect x="639.3" y="284.3" width="11.4" height="11.4" fill="#dcdcdc"/><rect x="639.3" y="284.3" width="5.7" height="5.7" fill="#505050"/><rect x="645.0" y="290.0" width="5.7" height="5.7" fill="#505050"/><circle cx="645.0" cy="290.0" r="2.52" fill="none" stroke="#ff9a00" stroke-width="1.2"/><rect x="658.5" y="283.5" width="56" height="15" fill="#dadada" stroke="#9c9c9c" stroke-width="1"/><rect x="658" y="283" width="57" height="1.2" fill="#707070"/><rect x="659" y="297" width="55" height="1" fill="#eeeeee"/><text x="661.90" y="294.40" font-size="11" font-weight="normal" fill="#000" textLength="21.05" lengthAdjust="spacing">Self</text><circle cx="726.3" cy="290.4" r="3.3" fill="none" stroke="#111" stroke-width="1"/><circle cx="726.3" cy="290.4" r="0.9" fill="#111"/><circle cx="765" cy="290" r="6.5" fill="url(#pg_blue)" stroke="#1c7cc4" stroke-width="1"/><circle cx="765" cy="290" r="5.3" fill="none" stroke="#fff" stroke-opacity="0.35" stroke-width="0.8"/><circle cx="645" cy="309" r="6.5" fill="url(#pg_blue)" stroke="#1c7cc4" stroke-width="1"/><circle cx="645" cy="309" r="5.3" fill="none" stroke="#fff" stroke-opacity="0.35" stroke-width="0.8"/><path d="M617.5 265L626.5 271L617.5 277Z" fill="#e6e6e6"/><circle cx="622" cy="290.9" r="4" fill="none" stroke="#d4d4d4" stroke-width="1"/><circle cx="622.4" cy="309.8" r="4.7" fill="#72bef0"/><path d="M783.0 266L792.0 272L783.0 278Z" fill="#e6e6e6"/><circle cx="787.5" cy="291" r="4" fill="none" stroke="#d4d4d4" stroke-width="1"/><rect x="834" y="239" width="132" height="115.5" rx="4" fill="#000" opacity="0.2"/><clipPath id="c835239"><rect x="835" y="239" width="130" height="114" rx="4"/></clipPath><g clip-path="url(#c835239)"><rect x="835" y="239" width="130" height="43" fill="url(#hg_yellow)"/><rect x="835" y="239" width="130" height="1" fill="#fff680"/><rect x="835" y="282" width="130" height="1" fill="#9a8a10"/><rect x="835" y="283" width="130" height="62" fill="#e0ddd3"/><rect x="835" y="345" width="130" height="1" fill="#f6f4ee"/><rect x="835" y="346" width="130" height="7" fill="#e8b80c"/><rect x="835" y="346" width="130" height="1" fill="#cc9c00"/></g><rect x="842.1" y="247.1" width="27.8" height="27.8" fill="#dcdcdc" stroke="#ff9a00" stroke-width="2.2"/><path d="M849.0 252.0H863.0V256.0H858.5V270.0H853.5V256.0H849.0Z" fill="#ff9a00"/><text x="878.30" y="255.00" font-size="10" font-weight="normal" fill="#000" stroke="#000" stroke-width="0.2" textLength="24.84" lengthAdjust="spacing">Text</text><text x="878.50" y="271.60" font-size="13" font-weight="normal" fill="#000" textLength="51.53" lengthAdjust="spacing">Set Text</text><g transform="translate(841.00,288.00)"><path d="M0.5 3.5H7.5V0.5L14 6.5L7.5 12.5V9.5H0.5Z" fill="url(#ag)" stroke="#3f9200" stroke-width="1.1" stroke-linejoin="round"/><path d="M1.6 8.6V4.5H8.5V2.8M8.6 2.6L12.6 6.5" fill="none" stroke="#e4f890" stroke-opacity="0.7" stroke-width="0.8"/></g><g transform="translate(945.00,288.00)"><path d="M0.5 3.5H7.5V0.5L14 6.5L7.5 12.5V9.5H0.5Z" fill="url(#ag)" stroke="#3f9200" stroke-width="1.1" stroke-linejoin="round"/><path d="M1.6 8.6V4.5H8.5V2.8M8.6 2.6L12.6 6.5" fill="none" stroke="#e4f890" stroke-opacity="0.7" stroke-width="0.8"/></g><rect x="841.6" y="307.6" width="12.8" height="12.8" fill="#dcdcdc" stroke="#ff9a00" stroke-width="1.2"/><path d="M844.7333333333333 309.8H851.2666666666667V311.6666666666667H849.1666666666666V318.2H846.8333333333334V311.6666666666667H844.7333333333333Z" fill="#ff9a00"/><rect x="861.5" y="307.5" width="56" height="15" fill="#dadada" stroke="#9c9c9c" stroke-width="1"/><rect x="861" y="307" width="57" height="1.2" fill="#707070"/><rect x="862" y="321" width="55" height="1" fill="#eeeeee"/><text x="864.60" y="318.50" font-size="11" font-weight="normal" fill="#000" textLength="21.25" lengthAdjust="spacing">Self</text><circle cx="929.4" cy="314.8" r="3.3" fill="none" stroke="#111" stroke-width="1"/><circle cx="929.4" cy="314.8" r="0.9" fill="#111"/><circle cx="952" cy="314" r="6.5" fill="url(#pg_orange)" stroke="#e87020" stroke-width="1"/><circle cx="952" cy="314" r="5.3" fill="none" stroke="#fff" stroke-opacity="0.35" stroke-width="0.8"/><circle cx="848" cy="333" r="6.5" fill="url(#pg_orange)" stroke="#e87020" stroke-width="1"/><circle cx="848" cy="333" r="5.3" fill="none" stroke="#fff" stroke-opacity="0.35" stroke-width="0.8"/><path d="M821.0 290L830.0 296L821.0 302Z" fill="#e6e6e6"/><circle cx="825.3" cy="315" r="4" fill="none" stroke="#d4d4d4" stroke-width="1"/><circle cx="825.2" cy="334.2" r="4.7" fill="#f0a060"/><path d="M970.5 290.4L978.7 296L970.5 301.6Z" fill="none" stroke="#d8d8d8" stroke-width="1"/><circle cx="974.5" cy="315" r="4" fill="none" stroke="#d4d4d4" stroke-width="1"/><rect x="629" y="367" width="138" height="115.5" rx="4" fill="#000" opacity="0.2"/><clipPath id="c630367"><rect x="630" y="367" width="136" height="114" rx="4"/></clipPath><g clip-path="url(#c630367)"><rect x="630" y="367" width="136" height="43" fill="url(#hg_gray)"/><rect x="630" y="367" width="136" height="1" fill="#cccccc"/><rect x="630" y="410" width="136" height="1" fill="#6e6e6e"/><rect x="630" y="411" width="136" height="62" fill="#dedede"/><rect x="630" y="473" width="136" height="1" fill="#f4f4f4"/><rect x="630" y="474" width="136" height="7" fill="#989898"/><rect x="630" y="474" width="136" height="1" fill="#6a6a6a"/></g><circle cx="651" cy="389" r="14.5" fill="url(#pg_blue)" stroke="#2a88cc" stroke-width="1.2"/><circle cx="651" cy="389" r="13" fill="none" stroke="#fff" stroke-opacity="0.4" stroke-width="1"/><text x="673.70" y="382.90" font-size="10" font-weight="normal" fill="#000" stroke="#000" stroke-width="0.2" textLength="26.33" lengthAdjust="spacing">Float</text><text x="673.40" y="399.60" font-size="13" font-weight="normal" fill="#000" textLength="54.80" lengthAdjust="spacing">To String</text><g transform="translate(636.00,416.00)"><path d="M0.5 3.5H7.5V0.5L14 6.5L7.5 12.5V9.5H0.5Z" fill="url(#ag)" stroke="#3f9200" stroke-width="1.1" stroke-linejoin="round"/><path d="M1.6 8.6V4.5H8.5V2.8M8.6 2.6L12.6 6.5" fill="none" stroke="#e4f890" stroke-opacity="0.7" stroke-width="0.8"/></g><g transform="translate(746.00,416.00)"><path d="M0.5 3.5H7.5V0.5L14 6.5L7.5 12.5V9.5H0.5Z" fill="url(#ag)" stroke="#3f9200" stroke-width="1.1" stroke-linejoin="round"/><path d="M1.6 8.6V4.5H8.5V2.8M8.6 2.6L12.6 6.5" fill="none" stroke="#e4f890" stroke-opacity="0.7" stroke-width="0.8"/></g><circle cx="643" cy="442" r="6.5" fill="url(#pg_blue)" stroke="#1c7cc4" stroke-width="1"/><circle cx="643" cy="442" r="5.3" fill="none" stroke="#fff" stroke-opacity="0.35" stroke-width="0.8"/><circle cx="753" cy="442" r="6.5" fill="url(#pg_orange)" stroke="#e87020" stroke-width="1"/><circle cx="753" cy="442" r="5.3" fill="none" stroke="#fff" stroke-opacity="0.35" stroke-width="0.8"/><circle cx="643" cy="461" r="6.5" fill="url(#pg_orange)" stroke="#e87020" stroke-width="1"/><circle cx="643" cy="461" r="5.3" fill="none" stroke="#fff" stroke-opacity="0.35" stroke-width="0.8"/><text x="656.50" y="465.00" font-size="11" font-weight="normal" fill="#000" textLength="39.33" lengthAdjust="spacing">Format</text><rect x="701.5" y="454.5" width="35" height="15" fill="#dadada" stroke="#9c9c9c" stroke-width="1"/><rect x="701" y="454" width="36" height="1.2" fill="#707070"/><rect x="702" y="468" width="34" height="1" fill="#eeeeee"/><text x="704.60" y="465.60" font-size="11" font-weight="normal" fill="#000" textLength="27.91" lengthAdjust="spacing">0.##</text><path d="M616.5 418.4L624.7 424L616.5 429.6Z" fill="none" stroke="#d8d8d8" stroke-width="1"/><circle cx="620.5" cy="442.8" r="4.7" fill="#72bef0"/><circle cx="620.5" cy="461.7" r="4" fill="none" stroke="#d4d4d4" stroke-width="1"/><path d="M772.0 417.9L780.2 423.5L772.0 429.1Z" fill="none" stroke="#d8d8d8" stroke-width="1"/><circle cx="775.4" cy="442.7" r="4.7" fill="#f0a060"/></svg></body></html>
